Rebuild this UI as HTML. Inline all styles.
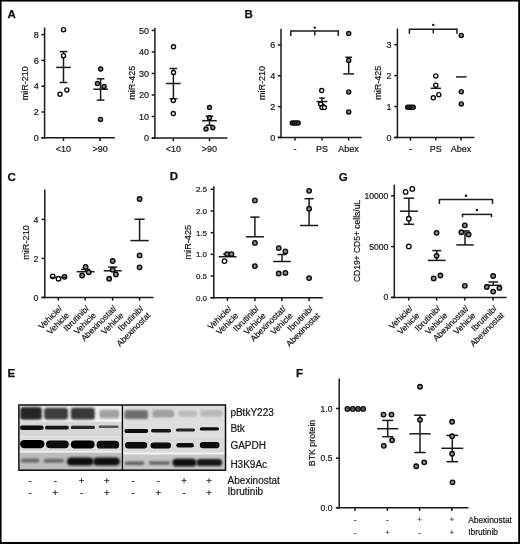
<!DOCTYPE html>
<html><head><meta charset="utf-8"><style>
html,body{margin:0;padding:0;background:#fff;}
body{width:520px;height:544px;overflow:hidden;}
svg{display:block;font-family:"Liberation Sans", sans-serif;filter:grayscale(1);}
</style></head><body>
<svg width="520" height="544" viewBox="0 0 520 544">
<defs><filter id="bl" x="-20%" y="-80%" width="140%" height="260%"><feGaussianBlur stdDeviation="0.75"/></filter><filter id="bl2" x="-20%" y="-50%" width="140%" height="200%"><feGaussianBlur stdDeviation="1.0"/></filter></defs>
<rect x="0" y="0" width="520" height="544" fill="#fff"/>
<text x="7.60" y="17.60" font-size="11.5" font-weight="bold" fill="#111" stroke="#111" stroke-width="0.25">A</text><line x1="44.60" y1="27.50" x2="44.60" y2="138.55" stroke="#1a1a1a" stroke-width="1.5"/><line x1="41.40" y1="137.80" x2="114.90" y2="137.80" stroke="#1a1a1a" stroke-width="1.5"/><line x1="41.40" y1="137.80" x2="44.60" y2="137.80" stroke="#1a1a1a" stroke-width="1.5"/><text x="38.80" y="141.00" font-size="9" text-anchor="end" fill="#161616" stroke="#161616" stroke-width="0.2">0</text><line x1="41.40" y1="112.00" x2="44.60" y2="112.00" stroke="#1a1a1a" stroke-width="1.5"/><text x="38.80" y="115.20" font-size="9" text-anchor="end" fill="#161616" stroke="#161616" stroke-width="0.2">2</text><line x1="41.40" y1="86.20" x2="44.60" y2="86.20" stroke="#1a1a1a" stroke-width="1.5"/><text x="38.80" y="89.40" font-size="9" text-anchor="end" fill="#161616" stroke="#161616" stroke-width="0.2">4</text><line x1="41.40" y1="60.40" x2="44.60" y2="60.40" stroke="#1a1a1a" stroke-width="1.5"/><text x="38.80" y="63.60" font-size="9" text-anchor="end" fill="#161616" stroke="#161616" stroke-width="0.2">6</text><line x1="41.40" y1="34.60" x2="44.60" y2="34.60" stroke="#1a1a1a" stroke-width="1.5"/><text x="38.80" y="37.80" font-size="9" text-anchor="end" fill="#161616" stroke="#161616" stroke-width="0.2">8</text><line x1="63.50" y1="137.80" x2="63.50" y2="141.00" stroke="#1a1a1a" stroke-width="1.5"/><text x="63.50" y="152.00" font-size="9" text-anchor="middle" fill="#161616" stroke="#161616" stroke-width="0.2">&lt;10</text><line x1="100.10" y1="137.80" x2="100.10" y2="141.00" stroke="#1a1a1a" stroke-width="1.5"/><text x="100.10" y="152.00" font-size="9" text-anchor="middle" fill="#161616" stroke="#161616" stroke-width="0.2">&gt;90</text><text x="0" y="0" font-size="9" text-anchor="middle" fill="#161616" stroke="#161616" stroke-width="0.2" transform="translate(27.80,83.20) rotate(-90)">miR-210</text><line x1="56.20" y1="67.40" x2="70.80" y2="67.40" stroke="#1a1a1a" stroke-width="1.5"/><line x1="63.50" y1="51.60" x2="63.50" y2="67.40" stroke="#1a1a1a" stroke-width="1.5"/><line x1="59.70" y1="51.60" x2="67.30" y2="51.60" stroke="#1a1a1a" stroke-width="1.5"/><line x1="63.50" y1="67.40" x2="63.50" y2="82.50" stroke="#1a1a1a" stroke-width="1.5"/><line x1="59.70" y1="82.50" x2="67.30" y2="82.50" stroke="#1a1a1a" stroke-width="1.5"/><circle cx="63.50" cy="29.70" r="2.05" fill="white" stroke="#060606" stroke-width="1.35"/><circle cx="63.50" cy="55.70" r="2.05" fill="white" stroke="#060606" stroke-width="1.35"/><circle cx="66.90" cy="89.90" r="2.05" fill="white" stroke="#060606" stroke-width="1.35"/><circle cx="60.00" cy="94.30" r="2.05" fill="white" stroke="#060606" stroke-width="1.35"/><line x1="93.30" y1="89.20" x2="107.90" y2="89.20" stroke="#1a1a1a" stroke-width="1.5"/><line x1="100.60" y1="78.80" x2="100.60" y2="89.20" stroke="#1a1a1a" stroke-width="1.5"/><line x1="96.80" y1="78.80" x2="104.40" y2="78.80" stroke="#1a1a1a" stroke-width="1.5"/><line x1="100.60" y1="89.20" x2="100.60" y2="100.10" stroke="#1a1a1a" stroke-width="1.5"/><line x1="96.80" y1="100.10" x2="104.40" y2="100.10" stroke="#1a1a1a" stroke-width="1.5"/><circle cx="100.70" cy="69.00" r="2.05" fill="#8c8c8c" stroke="#060606" stroke-width="1.35"/><circle cx="97.40" cy="83.50" r="2.05" fill="#8c8c8c" stroke="#060606" stroke-width="1.35"/><circle cx="104.10" cy="86.50" r="2.05" fill="#8c8c8c" stroke="#060606" stroke-width="1.35"/><circle cx="100.50" cy="119.40" r="2.05" fill="#8c8c8c" stroke="#060606" stroke-width="1.35"/><line x1="154.90" y1="27.70" x2="154.90" y2="138.75" stroke="#1a1a1a" stroke-width="1.5"/><line x1="151.70" y1="138.00" x2="227.40" y2="138.00" stroke="#1a1a1a" stroke-width="1.5"/><line x1="151.70" y1="138.00" x2="154.90" y2="138.00" stroke="#1a1a1a" stroke-width="1.5"/><text x="149.10" y="141.19" font-size="9" text-anchor="end" fill="#161616" stroke="#161616" stroke-width="0.2">0</text><line x1="151.70" y1="116.48" x2="154.90" y2="116.48" stroke="#1a1a1a" stroke-width="1.5"/><text x="149.10" y="119.67" font-size="9" text-anchor="end" fill="#161616" stroke="#161616" stroke-width="0.2">10</text><line x1="151.70" y1="94.96" x2="154.90" y2="94.96" stroke="#1a1a1a" stroke-width="1.5"/><text x="149.10" y="98.15" font-size="9" text-anchor="end" fill="#161616" stroke="#161616" stroke-width="0.2">20</text><line x1="151.70" y1="73.44" x2="154.90" y2="73.44" stroke="#1a1a1a" stroke-width="1.5"/><text x="149.10" y="76.63" font-size="9" text-anchor="end" fill="#161616" stroke="#161616" stroke-width="0.2">30</text><line x1="151.70" y1="51.92" x2="154.90" y2="51.92" stroke="#1a1a1a" stroke-width="1.5"/><text x="149.10" y="55.11" font-size="9" text-anchor="end" fill="#161616" stroke="#161616" stroke-width="0.2">40</text><line x1="151.70" y1="30.40" x2="154.90" y2="30.40" stroke="#1a1a1a" stroke-width="1.5"/><text x="149.10" y="33.59" font-size="9" text-anchor="end" fill="#161616" stroke="#161616" stroke-width="0.2">50</text><line x1="173.30" y1="138.00" x2="173.30" y2="141.20" stroke="#1a1a1a" stroke-width="1.5"/><text x="173.30" y="152.00" font-size="9" text-anchor="middle" fill="#161616" stroke="#161616" stroke-width="0.2">&lt;10</text><line x1="209.50" y1="138.00" x2="209.50" y2="141.20" stroke="#1a1a1a" stroke-width="1.5"/><text x="209.50" y="152.00" font-size="9" text-anchor="middle" fill="#161616" stroke="#161616" stroke-width="0.2">&gt;90</text><text x="0" y="0" font-size="9" text-anchor="middle" fill="#161616" stroke="#161616" stroke-width="0.2" transform="translate(135.00,82.80) rotate(-90)">miR-425</text><line x1="166.10" y1="83.50" x2="180.70" y2="83.50" stroke="#1a1a1a" stroke-width="1.5"/><line x1="173.40" y1="68.50" x2="173.40" y2="83.50" stroke="#1a1a1a" stroke-width="1.5"/><line x1="169.60" y1="68.50" x2="177.20" y2="68.50" stroke="#1a1a1a" stroke-width="1.5"/><line x1="173.40" y1="83.50" x2="173.40" y2="98.70" stroke="#1a1a1a" stroke-width="1.5"/><line x1="169.60" y1="98.70" x2="177.20" y2="98.70" stroke="#1a1a1a" stroke-width="1.5"/><circle cx="173.50" cy="46.80" r="2.05" fill="white" stroke="#060606" stroke-width="1.35"/><circle cx="173.50" cy="72.50" r="2.05" fill="white" stroke="#060606" stroke-width="1.35"/><circle cx="173.30" cy="100.50" r="2.05" fill="white" stroke="#060606" stroke-width="1.35"/><circle cx="173.30" cy="113.60" r="2.05" fill="white" stroke="#060606" stroke-width="1.35"/><line x1="202.20" y1="120.70" x2="216.80" y2="120.70" stroke="#1a1a1a" stroke-width="1.5"/><line x1="209.50" y1="116.20" x2="209.50" y2="120.70" stroke="#1a1a1a" stroke-width="1.5"/><line x1="205.70" y1="116.20" x2="213.30" y2="116.20" stroke="#1a1a1a" stroke-width="1.5"/><line x1="209.50" y1="120.70" x2="209.50" y2="125.30" stroke="#1a1a1a" stroke-width="1.5"/><line x1="205.70" y1="125.30" x2="213.30" y2="125.30" stroke="#1a1a1a" stroke-width="1.5"/><circle cx="209.50" cy="107.50" r="2.05" fill="#8c8c8c" stroke="#060606" stroke-width="1.35"/><circle cx="209.50" cy="117.80" r="2.05" fill="#8c8c8c" stroke="#060606" stroke-width="1.35"/><circle cx="206.00" cy="129.00" r="2.05" fill="#8c8c8c" stroke="#060606" stroke-width="1.35"/><circle cx="212.80" cy="127.70" r="2.05" fill="#8c8c8c" stroke="#060606" stroke-width="1.35"/><text x="244.40" y="17.60" font-size="11.5" font-weight="bold" fill="#111" stroke="#111" stroke-width="0.25">B</text><line x1="281.00" y1="28.70" x2="281.00" y2="138.15" stroke="#1a1a1a" stroke-width="1.5"/><line x1="277.80" y1="137.40" x2="361.80" y2="137.40" stroke="#1a1a1a" stroke-width="1.5"/><line x1="277.80" y1="137.40" x2="281.00" y2="137.40" stroke="#1a1a1a" stroke-width="1.5"/><text x="275.20" y="140.59" font-size="9" text-anchor="end" fill="#161616" stroke="#161616" stroke-width="0.2">0</text><line x1="277.80" y1="106.60" x2="281.00" y2="106.60" stroke="#1a1a1a" stroke-width="1.5"/><text x="275.20" y="109.80" font-size="9" text-anchor="end" fill="#161616" stroke="#161616" stroke-width="0.2">2</text><line x1="277.80" y1="75.80" x2="281.00" y2="75.80" stroke="#1a1a1a" stroke-width="1.5"/><text x="275.20" y="79.00" font-size="9" text-anchor="end" fill="#161616" stroke="#161616" stroke-width="0.2">4</text><line x1="277.80" y1="45.00" x2="281.00" y2="45.00" stroke="#1a1a1a" stroke-width="1.5"/><text x="275.20" y="48.20" font-size="9" text-anchor="end" fill="#161616" stroke="#161616" stroke-width="0.2">6</text><line x1="295.00" y1="137.40" x2="295.00" y2="140.60" stroke="#1a1a1a" stroke-width="1.5"/><text x="295.00" y="151.80" font-size="9" text-anchor="middle" fill="#161616" stroke="#161616" stroke-width="0.2">-</text><line x1="322.00" y1="137.40" x2="322.00" y2="140.60" stroke="#1a1a1a" stroke-width="1.5"/><text x="322.00" y="151.80" font-size="9" text-anchor="middle" fill="#161616" stroke="#161616" stroke-width="0.2">PS</text><line x1="348.60" y1="137.40" x2="348.60" y2="140.60" stroke="#1a1a1a" stroke-width="1.5"/><text x="348.60" y="151.80" font-size="9" text-anchor="middle" fill="#161616" stroke="#161616" stroke-width="0.2">Abex</text><text x="0" y="0" font-size="9" text-anchor="middle" fill="#161616" stroke="#161616" stroke-width="0.2" transform="translate(264.60,83.00) rotate(-90)">miR-210</text><line x1="290.80" y1="31.10" x2="338.30" y2="31.10" stroke="#1a1a1a" stroke-width="1.5"/><line x1="290.80" y1="30.40" x2="290.80" y2="35.90" stroke="#1a1a1a" stroke-width="1.5"/><line x1="338.30" y1="30.40" x2="338.30" y2="35.90" stroke="#1a1a1a" stroke-width="1.5"/><line x1="314.80" y1="31.10" x2="314.80" y2="35.40" stroke="#1a1a1a" stroke-width="1.5"/><circle cx="314.8" cy="27.6" r="1.2" fill="#111"/><circle cx="292.30" cy="123.00" r="2.05" fill="#888" stroke="#060606" stroke-width="1.35"/><circle cx="294.30" cy="123.00" r="2.05" fill="#888" stroke="#060606" stroke-width="1.35"/><circle cx="296.30" cy="123.00" r="2.05" fill="#888" stroke="#060606" stroke-width="1.35"/><circle cx="298.20" cy="123.00" r="2.05" fill="#888" stroke="#060606" stroke-width="1.35"/><line x1="291.00" y1="123.00" x2="299.50" y2="123.00" stroke="#1a1a1a" stroke-width="1.5"/><line x1="316.60" y1="101.60" x2="327.40" y2="101.60" stroke="#1a1a1a" stroke-width="1.5"/><line x1="322.00" y1="98.10" x2="322.00" y2="101.60" stroke="#1a1a1a" stroke-width="1.5"/><line x1="319.30" y1="98.10" x2="324.70" y2="98.10" stroke="#1a1a1a" stroke-width="1.5"/><line x1="322.00" y1="101.60" x2="322.00" y2="104.50" stroke="#1a1a1a" stroke-width="1.5"/><line x1="319.30" y1="104.50" x2="324.70" y2="104.50" stroke="#1a1a1a" stroke-width="1.5"/><circle cx="321.70" cy="90.60" r="2.05" fill="white" stroke="#060606" stroke-width="1.35"/><circle cx="320.60" cy="104.00" r="2.05" fill="white" stroke="#060606" stroke-width="1.35"/><circle cx="322.00" cy="107.60" r="2.05" fill="white" stroke="#060606" stroke-width="1.35"/><circle cx="324.40" cy="107.60" r="2.05" fill="white" stroke="#060606" stroke-width="1.35"/><line x1="343.30" y1="73.90" x2="354.10" y2="73.90" stroke="#1a1a1a" stroke-width="1.5"/><line x1="348.70" y1="57.30" x2="348.70" y2="73.90" stroke="#1a1a1a" stroke-width="1.5"/><line x1="345.30" y1="57.30" x2="352.10" y2="57.30" stroke="#1a1a1a" stroke-width="1.5"/><circle cx="348.70" cy="33.50" r="2.05" fill="#8c8c8c" stroke="#060606" stroke-width="1.35"/><circle cx="348.70" cy="60.40" r="2.05" fill="#8c8c8c" stroke="#060606" stroke-width="1.35"/><circle cx="348.70" cy="91.90" r="2.05" fill="#8c8c8c" stroke="#060606" stroke-width="1.35"/><circle cx="348.70" cy="111.90" r="2.05" fill="#8c8c8c" stroke="#060606" stroke-width="1.35"/><line x1="397.40" y1="28.50" x2="397.40" y2="138.15" stroke="#1a1a1a" stroke-width="1.5"/><line x1="394.20" y1="137.40" x2="474.40" y2="137.40" stroke="#1a1a1a" stroke-width="1.5"/><line x1="394.20" y1="137.50" x2="397.40" y2="137.50" stroke="#1a1a1a" stroke-width="1.5"/><text x="391.60" y="140.69" font-size="9" text-anchor="end" fill="#161616" stroke="#161616" stroke-width="0.2">0</text><line x1="394.20" y1="106.55" x2="397.40" y2="106.55" stroke="#1a1a1a" stroke-width="1.5"/><text x="391.60" y="109.74" font-size="9" text-anchor="end" fill="#161616" stroke="#161616" stroke-width="0.2">1</text><line x1="394.20" y1="75.60" x2="397.40" y2="75.60" stroke="#1a1a1a" stroke-width="1.5"/><text x="391.60" y="78.79" font-size="9" text-anchor="end" fill="#161616" stroke="#161616" stroke-width="0.2">2</text><line x1="394.20" y1="44.65" x2="397.40" y2="44.65" stroke="#1a1a1a" stroke-width="1.5"/><text x="391.60" y="47.85" font-size="9" text-anchor="end" fill="#161616" stroke="#161616" stroke-width="0.2">3</text><line x1="410.40" y1="137.40" x2="410.40" y2="140.60" stroke="#1a1a1a" stroke-width="1.5"/><text x="410.40" y="151.80" font-size="9" text-anchor="middle" fill="#161616" stroke="#161616" stroke-width="0.2">-</text><line x1="435.80" y1="137.40" x2="435.80" y2="140.60" stroke="#1a1a1a" stroke-width="1.5"/><text x="435.80" y="151.80" font-size="9" text-anchor="middle" fill="#161616" stroke="#161616" stroke-width="0.2">PS</text><line x1="461.00" y1="137.40" x2="461.00" y2="140.60" stroke="#1a1a1a" stroke-width="1.5"/><text x="461.00" y="151.80" font-size="9" text-anchor="middle" fill="#161616" stroke="#161616" stroke-width="0.2">Abex</text><text x="0" y="0" font-size="9" text-anchor="middle" fill="#161616" stroke="#161616" stroke-width="0.2" transform="translate(380.90,82.80) rotate(-90)">miR-425</text><line x1="409.40" y1="29.30" x2="457.00" y2="29.30" stroke="#1a1a1a" stroke-width="1.5"/><line x1="409.40" y1="28.60" x2="409.40" y2="33.80" stroke="#1a1a1a" stroke-width="1.5"/><line x1="457.00" y1="28.60" x2="457.00" y2="33.80" stroke="#1a1a1a" stroke-width="1.5"/><line x1="433.30" y1="29.30" x2="433.30" y2="33.40" stroke="#1a1a1a" stroke-width="1.5"/><circle cx="433.3" cy="24.9" r="1.2" fill="#111"/><circle cx="407.70" cy="107.30" r="2.05" fill="#888" stroke="#060606" stroke-width="1.35"/><circle cx="409.60" cy="107.30" r="2.05" fill="#888" stroke="#060606" stroke-width="1.35"/><circle cx="411.40" cy="107.30" r="2.05" fill="#888" stroke="#060606" stroke-width="1.35"/><circle cx="413.20" cy="107.30" r="2.05" fill="#888" stroke="#060606" stroke-width="1.35"/><line x1="405.50" y1="107.30" x2="415.50" y2="107.30" stroke="#1a1a1a" stroke-width="1.5"/><line x1="430.60" y1="88.30" x2="441.00" y2="88.30" stroke="#1a1a1a" stroke-width="1.5"/><circle cx="435.80" cy="75.90" r="2.05" fill="white" stroke="#060606" stroke-width="1.35"/><circle cx="435.80" cy="85.20" r="2.05" fill="white" stroke="#060606" stroke-width="1.35"/><circle cx="438.80" cy="94.70" r="2.05" fill="white" stroke="#060606" stroke-width="1.35"/><circle cx="433.30" cy="97.80" r="2.05" fill="white" stroke="#060606" stroke-width="1.35"/><line x1="456.10" y1="76.90" x2="466.50" y2="76.90" stroke="#1a1a1a" stroke-width="1.5"/><circle cx="461.30" cy="35.40" r="2.05" fill="#8c8c8c" stroke="#060606" stroke-width="1.35"/><circle cx="461.30" cy="91.70" r="2.05" fill="#8c8c8c" stroke="#060606" stroke-width="1.35"/><circle cx="461.30" cy="103.90" r="2.05" fill="#8c8c8c" stroke="#060606" stroke-width="1.35"/><text x="7.60" y="180.60" font-size="11.5" font-weight="bold" fill="#111" stroke="#111" stroke-width="0.25">C</text><line x1="44.80" y1="189.40" x2="44.80" y2="298.15" stroke="#1a1a1a" stroke-width="1.5"/><line x1="41.40" y1="297.40" x2="153.50" y2="297.40" stroke="#1a1a1a" stroke-width="1.5"/><line x1="41.60" y1="297.40" x2="44.80" y2="297.40" stroke="#1a1a1a" stroke-width="1.5"/><text x="38.40" y="300.52" font-size="8.8" text-anchor="end" fill="#161616" stroke="#161616" stroke-width="0.2">0</text><line x1="41.60" y1="258.40" x2="44.80" y2="258.40" stroke="#1a1a1a" stroke-width="1.5"/><text x="38.40" y="261.52" font-size="8.8" text-anchor="end" fill="#161616" stroke="#161616" stroke-width="0.2">2</text><line x1="41.60" y1="219.40" x2="44.80" y2="219.40" stroke="#1a1a1a" stroke-width="1.5"/><text x="38.40" y="222.52" font-size="8.8" text-anchor="end" fill="#161616" stroke="#161616" stroke-width="0.2">4</text><line x1="58.30" y1="297.40" x2="58.30" y2="300.60" stroke="#1a1a1a" stroke-width="1.5"/><line x1="85.20" y1="297.40" x2="85.20" y2="300.60" stroke="#1a1a1a" stroke-width="1.5"/><line x1="112.60" y1="297.40" x2="112.60" y2="300.60" stroke="#1a1a1a" stroke-width="1.5"/><line x1="139.60" y1="297.40" x2="139.60" y2="300.60" stroke="#1a1a1a" stroke-width="1.5"/><text x="0" y="0" font-size="9.2" text-anchor="middle" fill="#161616" stroke="#161616" stroke-width="0.2" transform="translate(29.40,242.50) rotate(-90)">miR-210</text><text x="0" y="0" font-size="8.4" text-anchor="end" fill="#161616" stroke="#161616" stroke-width="0.2" transform="translate(62.70,309.00) rotate(-45)">Vehicle/</text><text x="0" y="0" font-size="8.4" text-anchor="end" fill="#161616" stroke="#161616" stroke-width="0.2" transform="translate(69.63,315.93) rotate(-45)">Vehicle</text><text x="0" y="0" font-size="8.4" text-anchor="end" fill="#161616" stroke="#161616" stroke-width="0.2" transform="translate(89.60,309.00) rotate(-45)">Ibrutinib/</text><text x="0" y="0" font-size="8.4" text-anchor="end" fill="#161616" stroke="#161616" stroke-width="0.2" transform="translate(96.53,315.93) rotate(-45)">Vehicle</text><text x="0" y="0" font-size="8.4" text-anchor="end" fill="#161616" stroke="#161616" stroke-width="0.2" transform="translate(117.00,309.00) rotate(-45)">Abexinostat/</text><text x="0" y="0" font-size="8.4" text-anchor="end" fill="#161616" stroke="#161616" stroke-width="0.2" transform="translate(123.93,315.93) rotate(-45)">Vehicle</text><text x="0" y="0" font-size="8.4" text-anchor="end" fill="#161616" stroke="#161616" stroke-width="0.2" transform="translate(144.00,309.00) rotate(-45)">Ibrutinib/</text><text x="0" y="0" font-size="8.4" text-anchor="end" fill="#161616" stroke="#161616" stroke-width="0.2" transform="translate(150.93,315.93) rotate(-45)">Abexinostat</text><circle cx="52.70" cy="276.30" r="2.25" fill="white" stroke="#060606" stroke-width="1.35"/><circle cx="64.50" cy="276.80" r="2.25" fill="#8c8c8c" stroke="#060606" stroke-width="1.35"/><line x1="50.50" y1="277.40" x2="66.80" y2="277.40" stroke="#1a1a1a" stroke-width="1.2"/><circle cx="58.50" cy="278.70" r="2.25" fill="white" stroke="#060606" stroke-width="1.35"/><line x1="76.60" y1="271.70" x2="94.60" y2="271.70" stroke="#1a1a1a" stroke-width="1.5"/><line x1="85.60" y1="269.40" x2="85.60" y2="271.70" stroke="#1a1a1a" stroke-width="1.5"/><line x1="81.10" y1="269.40" x2="90.10" y2="269.40" stroke="#1a1a1a" stroke-width="1.5"/><circle cx="85.60" cy="266.90" r="2.25" fill="#8c8c8c" stroke="#060606" stroke-width="1.35"/><circle cx="88.70" cy="272.30" r="2.25" fill="#8c8c8c" stroke="#060606" stroke-width="1.35"/><circle cx="82.10" cy="275.50" r="2.25" fill="#8c8c8c" stroke="#060606" stroke-width="1.35"/><line x1="103.70" y1="270.80" x2="121.70" y2="270.80" stroke="#1a1a1a" stroke-width="1.5"/><line x1="112.70" y1="267.10" x2="112.70" y2="270.80" stroke="#1a1a1a" stroke-width="1.5"/><line x1="108.10" y1="267.10" x2="117.30" y2="267.10" stroke="#1a1a1a" stroke-width="1.5"/><circle cx="112.70" cy="261.00" r="2.25" fill="#8c8c8c" stroke="#060606" stroke-width="1.35"/><circle cx="112.70" cy="269.80" r="2.25" fill="#8c8c8c" stroke="#060606" stroke-width="1.35"/><circle cx="115.90" cy="274.40" r="2.25" fill="#8c8c8c" stroke="#060606" stroke-width="1.35"/><circle cx="109.20" cy="278.70" r="2.25" fill="#8c8c8c" stroke="#060606" stroke-width="1.35"/><line x1="130.50" y1="240.60" x2="148.70" y2="240.60" stroke="#1a1a1a" stroke-width="1.5"/><line x1="139.60" y1="219.20" x2="139.60" y2="240.60" stroke="#1a1a1a" stroke-width="1.5"/><line x1="134.60" y1="219.20" x2="144.60" y2="219.20" stroke="#1a1a1a" stroke-width="1.5"/><circle cx="139.60" cy="199.00" r="2.25" fill="#8c8c8c" stroke="#060606" stroke-width="1.35"/><circle cx="139.60" cy="255.40" r="2.25" fill="#8c8c8c" stroke="#060606" stroke-width="1.35"/><circle cx="139.60" cy="267.30" r="2.25" fill="#8c8c8c" stroke="#060606" stroke-width="1.35"/><text x="169.80" y="180.40" font-size="11.5" font-weight="bold" fill="#111" stroke="#111" stroke-width="0.25">D</text><line x1="213.80" y1="186.30" x2="213.80" y2="298.45" stroke="#1a1a1a" stroke-width="1.5"/><line x1="210.50" y1="297.70" x2="322.90" y2="297.70" stroke="#1a1a1a" stroke-width="1.5"/><line x1="210.60" y1="297.70" x2="213.80" y2="297.70" stroke="#1a1a1a" stroke-width="1.5"/><text x="207.00" y="300.54" font-size="8" text-anchor="end" fill="#161616" stroke="#161616" stroke-width="0.2">0.0</text><line x1="210.60" y1="276.02" x2="213.80" y2="276.02" stroke="#1a1a1a" stroke-width="1.5"/><text x="207.00" y="278.86" font-size="8" text-anchor="end" fill="#161616" stroke="#161616" stroke-width="0.2">0.5</text><line x1="210.60" y1="254.34" x2="213.80" y2="254.34" stroke="#1a1a1a" stroke-width="1.5"/><text x="207.00" y="257.18" font-size="8" text-anchor="end" fill="#161616" stroke="#161616" stroke-width="0.2">1.0</text><line x1="210.60" y1="232.66" x2="213.80" y2="232.66" stroke="#1a1a1a" stroke-width="1.5"/><text x="207.00" y="235.50" font-size="8" text-anchor="end" fill="#161616" stroke="#161616" stroke-width="0.2">1.5</text><line x1="210.60" y1="210.98" x2="213.80" y2="210.98" stroke="#1a1a1a" stroke-width="1.5"/><text x="207.00" y="213.82" font-size="8" text-anchor="end" fill="#161616" stroke="#161616" stroke-width="0.2">2.0</text><line x1="210.60" y1="189.30" x2="213.80" y2="189.30" stroke="#1a1a1a" stroke-width="1.5"/><text x="207.00" y="192.14" font-size="8" text-anchor="end" fill="#161616" stroke="#161616" stroke-width="0.2">2.5</text><line x1="227.50" y1="297.70" x2="227.50" y2="300.90" stroke="#1a1a1a" stroke-width="1.5"/><line x1="254.90" y1="297.70" x2="254.90" y2="300.90" stroke="#1a1a1a" stroke-width="1.5"/><line x1="281.90" y1="297.70" x2="281.90" y2="300.90" stroke="#1a1a1a" stroke-width="1.5"/><line x1="309.10" y1="297.70" x2="309.10" y2="300.90" stroke="#1a1a1a" stroke-width="1.5"/><text x="0" y="0" font-size="9.2" text-anchor="middle" fill="#161616" stroke="#161616" stroke-width="0.2" transform="translate(191.20,242.20) rotate(-90)">miR-425</text><text x="0" y="0" font-size="8.4" text-anchor="end" fill="#161616" stroke="#161616" stroke-width="0.2" transform="translate(231.90,309.30) rotate(-45)">Vehicle/</text><text x="0" y="0" font-size="8.4" text-anchor="end" fill="#161616" stroke="#161616" stroke-width="0.2" transform="translate(238.83,316.23) rotate(-45)">Vehicle</text><text x="0" y="0" font-size="8.4" text-anchor="end" fill="#161616" stroke="#161616" stroke-width="0.2" transform="translate(259.30,309.30) rotate(-45)">Ibrutinib/</text><text x="0" y="0" font-size="8.4" text-anchor="end" fill="#161616" stroke="#161616" stroke-width="0.2" transform="translate(266.23,316.23) rotate(-45)">Vehicle</text><text x="0" y="0" font-size="8.4" text-anchor="end" fill="#161616" stroke="#161616" stroke-width="0.2" transform="translate(286.30,309.30) rotate(-45)">Abexinostat/</text><text x="0" y="0" font-size="8.4" text-anchor="end" fill="#161616" stroke="#161616" stroke-width="0.2" transform="translate(293.23,316.23) rotate(-45)">Vehicle</text><text x="0" y="0" font-size="8.4" text-anchor="end" fill="#161616" stroke="#161616" stroke-width="0.2" transform="translate(313.50,309.30) rotate(-45)">Ibrutinib/</text><text x="0" y="0" font-size="8.4" text-anchor="end" fill="#161616" stroke="#161616" stroke-width="0.2" transform="translate(320.43,316.23) rotate(-45)">Abexinostat</text><line x1="218.60" y1="256.70" x2="236.60" y2="256.70" stroke="#1a1a1a" stroke-width="1.5"/><line x1="227.60" y1="254.10" x2="227.60" y2="256.70" stroke="#1a1a1a" stroke-width="1.5"/><line x1="223.10" y1="254.10" x2="232.10" y2="254.10" stroke="#1a1a1a" stroke-width="1.5"/><circle cx="227.10" cy="254.10" r="2.25" fill="#8c8c8c" stroke="#060606" stroke-width="1.35"/><circle cx="231.40" cy="254.10" r="2.25" fill="#8c8c8c" stroke="#060606" stroke-width="1.35"/><circle cx="224.50" cy="261.10" r="2.25" fill="white" stroke="#060606" stroke-width="1.35"/><line x1="245.90" y1="236.80" x2="263.90" y2="236.80" stroke="#1a1a1a" stroke-width="1.5"/><line x1="254.90" y1="217.10" x2="254.90" y2="236.80" stroke="#1a1a1a" stroke-width="1.5"/><line x1="250.30" y1="217.10" x2="259.50" y2="217.10" stroke="#1a1a1a" stroke-width="1.5"/><circle cx="254.90" cy="200.40" r="2.25" fill="#8c8c8c" stroke="#060606" stroke-width="1.35"/><circle cx="254.90" cy="242.90" r="2.25" fill="#8c8c8c" stroke="#060606" stroke-width="1.35"/><circle cx="254.90" cy="266.10" r="2.25" fill="#8c8c8c" stroke="#060606" stroke-width="1.35"/><line x1="273.20" y1="261.50" x2="290.80" y2="261.50" stroke="#1a1a1a" stroke-width="1.5"/><line x1="282.00" y1="254.50" x2="282.00" y2="261.50" stroke="#1a1a1a" stroke-width="1.5"/><line x1="277.50" y1="254.50" x2="286.50" y2="254.50" stroke="#1a1a1a" stroke-width="1.5"/><circle cx="278.80" cy="248.10" r="2.25" fill="#8c8c8c" stroke="#060606" stroke-width="1.35"/><circle cx="285.40" cy="251.40" r="2.25" fill="#8c8c8c" stroke="#060606" stroke-width="1.35"/><circle cx="278.70" cy="273.50" r="2.25" fill="#8c8c8c" stroke="#060606" stroke-width="1.35"/><circle cx="285.40" cy="272.90" r="2.25" fill="#8c8c8c" stroke="#060606" stroke-width="1.35"/><line x1="300.00" y1="225.50" x2="318.20" y2="225.50" stroke="#1a1a1a" stroke-width="1.5"/><line x1="309.10" y1="198.70" x2="309.10" y2="225.50" stroke="#1a1a1a" stroke-width="1.5"/><line x1="304.50" y1="198.70" x2="313.70" y2="198.70" stroke="#1a1a1a" stroke-width="1.5"/><circle cx="309.10" cy="190.80" r="2.25" fill="#8c8c8c" stroke="#060606" stroke-width="1.35"/><circle cx="309.10" cy="208.70" r="2.25" fill="#8c8c8c" stroke="#060606" stroke-width="1.35"/><circle cx="309.10" cy="278.10" r="2.25" fill="#8c8c8c" stroke="#060606" stroke-width="1.35"/><text x="338.80" y="180.80" font-size="11.5" font-weight="bold" fill="#111" stroke="#111" stroke-width="0.25">G</text><line x1="394.30" y1="184.60" x2="394.30" y2="298.15" stroke="#1a1a1a" stroke-width="1.5"/><line x1="391.10" y1="297.40" x2="506.60" y2="297.40" stroke="#1a1a1a" stroke-width="1.5"/><line x1="391.10" y1="297.40" x2="394.30" y2="297.40" stroke="#1a1a1a" stroke-width="1.5"/><text x="388.30" y="300.45" font-size="8.6" text-anchor="end" fill="#161616" stroke="#161616" stroke-width="0.2">0</text><line x1="391.10" y1="246.60" x2="394.30" y2="246.60" stroke="#1a1a1a" stroke-width="1.5"/><text x="388.30" y="249.65" font-size="8.6" text-anchor="end" fill="#161616" stroke="#161616" stroke-width="0.2">5000</text><line x1="391.10" y1="195.80" x2="394.30" y2="195.80" stroke="#1a1a1a" stroke-width="1.5"/><text x="388.30" y="198.85" font-size="8.6" text-anchor="end" fill="#161616" stroke="#161616" stroke-width="0.2">10000</text><line x1="408.80" y1="297.40" x2="408.80" y2="300.60" stroke="#1a1a1a" stroke-width="1.5"/><line x1="436.60" y1="297.40" x2="436.60" y2="300.60" stroke="#1a1a1a" stroke-width="1.5"/><line x1="464.80" y1="297.40" x2="464.80" y2="300.60" stroke="#1a1a1a" stroke-width="1.5"/><line x1="493.00" y1="297.40" x2="493.00" y2="300.60" stroke="#1a1a1a" stroke-width="1.5"/><text x="0" y="0" font-size="8.5" text-anchor="middle" fill="#161616" stroke="#161616" stroke-width="0.2" transform="translate(359.60,241.00) rotate(-90)">CD19+ CD5+ cells/uL</text><text x="0" y="0" font-size="8.4" text-anchor="end" fill="#161616" stroke="#161616" stroke-width="0.2" transform="translate(413.20,309.00) rotate(-45)">Vehicle/</text><text x="0" y="0" font-size="8.4" text-anchor="end" fill="#161616" stroke="#161616" stroke-width="0.2" transform="translate(420.13,315.93) rotate(-45)">Vehicle</text><text x="0" y="0" font-size="8.4" text-anchor="end" fill="#161616" stroke="#161616" stroke-width="0.2" transform="translate(441.00,309.00) rotate(-45)">Ibrutinib/</text><text x="0" y="0" font-size="8.4" text-anchor="end" fill="#161616" stroke="#161616" stroke-width="0.2" transform="translate(447.93,315.93) rotate(-45)">Vehicle</text><text x="0" y="0" font-size="8.4" text-anchor="end" fill="#161616" stroke="#161616" stroke-width="0.2" transform="translate(469.20,309.00) rotate(-45)">Abexinostat/</text><text x="0" y="0" font-size="8.4" text-anchor="end" fill="#161616" stroke="#161616" stroke-width="0.2" transform="translate(476.13,315.93) rotate(-45)">Vehicle</text><text x="0" y="0" font-size="8.4" text-anchor="end" fill="#161616" stroke="#161616" stroke-width="0.2" transform="translate(497.40,309.00) rotate(-45)">Ibrutinib/</text><text x="0" y="0" font-size="8.4" text-anchor="end" fill="#161616" stroke="#161616" stroke-width="0.2" transform="translate(504.33,315.93) rotate(-45)">Abexinostat</text><line x1="439.40" y1="199.60" x2="492.50" y2="199.60" stroke="#1a1a1a" stroke-width="1.5"/><line x1="439.40" y1="199.00" x2="439.40" y2="204.00" stroke="#1a1a1a" stroke-width="1.5"/><line x1="492.50" y1="199.00" x2="492.50" y2="204.00" stroke="#1a1a1a" stroke-width="1.5"/><circle cx="466.0" cy="195.8" r="1.25" fill="#111"/><line x1="462.50" y1="214.40" x2="491.50" y2="214.40" stroke="#1a1a1a" stroke-width="1.5"/><line x1="462.50" y1="213.80" x2="462.50" y2="217.20" stroke="#1a1a1a" stroke-width="1.5"/><line x1="491.50" y1="213.80" x2="491.50" y2="217.20" stroke="#1a1a1a" stroke-width="1.5"/><circle cx="476.9" cy="210.0" r="1.25" fill="#111"/><line x1="399.90" y1="211.20" x2="417.90" y2="211.20" stroke="#1a1a1a" stroke-width="1.5"/><line x1="408.90" y1="198.20" x2="408.90" y2="211.20" stroke="#1a1a1a" stroke-width="1.5"/><line x1="403.70" y1="198.20" x2="414.10" y2="198.20" stroke="#1a1a1a" stroke-width="1.5"/><line x1="408.90" y1="211.20" x2="408.90" y2="224.30" stroke="#1a1a1a" stroke-width="1.5"/><line x1="403.70" y1="224.30" x2="414.10" y2="224.30" stroke="#1a1a1a" stroke-width="1.5"/><circle cx="405.60" cy="191.90" r="2.25" fill="white" stroke="#060606" stroke-width="1.35"/><circle cx="412.30" cy="188.90" r="2.25" fill="white" stroke="#060606" stroke-width="1.35"/><circle cx="408.80" cy="218.70" r="2.25" fill="white" stroke="#060606" stroke-width="1.35"/><circle cx="408.80" cy="246.40" r="2.25" fill="white" stroke="#060606" stroke-width="1.35"/><line x1="427.90" y1="260.40" x2="445.70" y2="260.40" stroke="#1a1a1a" stroke-width="1.5"/><line x1="436.80" y1="250.60" x2="436.80" y2="260.40" stroke="#1a1a1a" stroke-width="1.5"/><line x1="432.30" y1="250.60" x2="441.30" y2="250.60" stroke="#1a1a1a" stroke-width="1.5"/><circle cx="436.60" cy="232.80" r="2.25" fill="#8c8c8c" stroke="#060606" stroke-width="1.35"/><circle cx="436.60" cy="255.80" r="2.25" fill="#8c8c8c" stroke="#060606" stroke-width="1.35"/><circle cx="433.70" cy="278.40" r="2.25" fill="#8c8c8c" stroke="#060606" stroke-width="1.35"/><circle cx="440.40" cy="275.50" r="2.25" fill="#8c8c8c" stroke="#060606" stroke-width="1.35"/><line x1="456.30" y1="244.90" x2="473.70" y2="244.90" stroke="#1a1a1a" stroke-width="1.5"/><line x1="465.00" y1="231.00" x2="465.00" y2="244.90" stroke="#1a1a1a" stroke-width="1.5"/><line x1="460.30" y1="231.00" x2="469.70" y2="231.00" stroke="#1a1a1a" stroke-width="1.5"/><circle cx="464.80" cy="225.30" r="2.25" fill="#8c8c8c" stroke="#060606" stroke-width="1.35"/><circle cx="461.40" cy="232.20" r="2.25" fill="#8c8c8c" stroke="#060606" stroke-width="1.35"/><circle cx="468.60" cy="234.50" r="2.25" fill="#8c8c8c" stroke="#060606" stroke-width="1.35"/><circle cx="464.80" cy="285.80" r="2.25" fill="#8c8c8c" stroke="#060606" stroke-width="1.35"/><line x1="485.00" y1="285.30" x2="501.40" y2="285.30" stroke="#1a1a1a" stroke-width="1.5"/><line x1="493.20" y1="282.00" x2="493.20" y2="285.30" stroke="#1a1a1a" stroke-width="1.5"/><line x1="488.40" y1="282.00" x2="498.00" y2="282.00" stroke="#1a1a1a" stroke-width="1.5"/><circle cx="493.20" cy="276.00" r="2.25" fill="#8c8c8c" stroke="#060606" stroke-width="1.35"/><circle cx="486.80" cy="287.00" r="2.25" fill="#8c8c8c" stroke="#060606" stroke-width="1.35"/><circle cx="499.40" cy="288.10" r="2.25" fill="#8c8c8c" stroke="#060606" stroke-width="1.35"/><circle cx="493.20" cy="291.60" r="2.25" fill="#8c8c8c" stroke="#060606" stroke-width="1.35"/><text x="296.00" y="376.80" font-size="11.5" font-weight="bold" fill="#111" stroke="#111" stroke-width="0.25">F</text><line x1="339.20" y1="378.50" x2="339.20" y2="508.45" stroke="#1a1a1a" stroke-width="1.5"/><line x1="335.80" y1="507.70" x2="468.50" y2="507.70" stroke="#1a1a1a" stroke-width="1.5"/><line x1="336.00" y1="507.70" x2="339.20" y2="507.70" stroke="#1a1a1a" stroke-width="1.5"/><text x="332.40" y="510.72" font-size="8.5" text-anchor="end" fill="#161616" stroke="#161616" stroke-width="0.2">0.0</text><line x1="336.00" y1="458.10" x2="339.20" y2="458.10" stroke="#1a1a1a" stroke-width="1.5"/><text x="332.40" y="461.12" font-size="8.5" text-anchor="end" fill="#161616" stroke="#161616" stroke-width="0.2">0.5</text><line x1="336.00" y1="408.50" x2="339.20" y2="408.50" stroke="#1a1a1a" stroke-width="1.5"/><text x="332.40" y="411.52" font-size="8.5" text-anchor="end" fill="#161616" stroke="#161616" stroke-width="0.2">1.0</text><line x1="355.00" y1="507.70" x2="355.00" y2="510.90" stroke="#1a1a1a" stroke-width="1.5"/><line x1="387.40" y1="507.70" x2="387.40" y2="510.90" stroke="#1a1a1a" stroke-width="1.5"/><line x1="419.60" y1="507.70" x2="419.60" y2="510.90" stroke="#1a1a1a" stroke-width="1.5"/><line x1="451.80" y1="507.70" x2="451.80" y2="510.90" stroke="#1a1a1a" stroke-width="1.5"/><text x="0" y="0" font-size="8.8" text-anchor="middle" fill="#161616" stroke="#161616" stroke-width="0.2" transform="translate(314.80,443.00) rotate(-90)">BTK protein</text><line x1="345.00" y1="408.90" x2="366.00" y2="408.90" stroke="#1a1a1a" stroke-width="1.5"/><circle cx="347.40" cy="408.90" r="2.25" fill="#8c8c8c" stroke="#060606" stroke-width="1.35"/><circle cx="352.80" cy="408.90" r="2.25" fill="#8c8c8c" stroke="#060606" stroke-width="1.35"/><circle cx="358.00" cy="408.90" r="2.25" fill="#8c8c8c" stroke="#060606" stroke-width="1.35"/><circle cx="363.20" cy="408.90" r="2.25" fill="#8c8c8c" stroke="#060606" stroke-width="1.35"/><line x1="345.00" y1="408.90" x2="366.00" y2="408.90" stroke="#1a1a1a" stroke-width="0.8"/><line x1="377.10" y1="428.70" x2="398.30" y2="428.70" stroke="#1a1a1a" stroke-width="1.5"/><line x1="387.70" y1="420.40" x2="387.70" y2="428.70" stroke="#1a1a1a" stroke-width="1.5"/><line x1="382.20" y1="420.40" x2="393.20" y2="420.40" stroke="#1a1a1a" stroke-width="1.5"/><line x1="387.70" y1="428.70" x2="387.70" y2="436.70" stroke="#1a1a1a" stroke-width="1.5"/><line x1="382.20" y1="436.70" x2="393.20" y2="436.70" stroke="#1a1a1a" stroke-width="1.5"/><circle cx="383.50" cy="414.60" r="2.25" fill="#8c8c8c" stroke="#060606" stroke-width="1.35"/><circle cx="391.50" cy="414.60" r="2.25" fill="#8c8c8c" stroke="#060606" stroke-width="1.35"/><circle cx="392.10" cy="440.20" r="2.25" fill="#8c8c8c" stroke="#060606" stroke-width="1.35"/><circle cx="383.80" cy="445.80" r="2.25" fill="#8c8c8c" stroke="#060606" stroke-width="1.35"/><line x1="409.40" y1="433.80" x2="430.60" y2="433.80" stroke="#1a1a1a" stroke-width="1.5"/><line x1="420.00" y1="415.20" x2="420.00" y2="433.80" stroke="#1a1a1a" stroke-width="1.5"/><line x1="414.20" y1="415.20" x2="425.80" y2="415.20" stroke="#1a1a1a" stroke-width="1.5"/><line x1="420.00" y1="433.80" x2="420.00" y2="452.50" stroke="#1a1a1a" stroke-width="1.5"/><line x1="414.20" y1="452.50" x2="425.80" y2="452.50" stroke="#1a1a1a" stroke-width="1.5"/><circle cx="420.00" cy="386.70" r="2.25" fill="#8c8c8c" stroke="#060606" stroke-width="1.35"/><circle cx="420.00" cy="419.80" r="2.25" fill="#8c8c8c" stroke="#060606" stroke-width="1.35"/><circle cx="416.20" cy="466.20" r="2.25" fill="#8c8c8c" stroke="#060606" stroke-width="1.35"/><circle cx="424.20" cy="462.30" r="2.25" fill="#8c8c8c" stroke="#060606" stroke-width="1.35"/><line x1="441.40" y1="448.30" x2="463.20" y2="448.30" stroke="#1a1a1a" stroke-width="1.5"/><line x1="452.30" y1="435.40" x2="452.30" y2="448.30" stroke="#1a1a1a" stroke-width="1.5"/><line x1="446.50" y1="435.40" x2="458.10" y2="435.40" stroke="#1a1a1a" stroke-width="1.5"/><line x1="452.30" y1="448.30" x2="452.30" y2="461.70" stroke="#1a1a1a" stroke-width="1.5"/><line x1="446.50" y1="461.70" x2="458.10" y2="461.70" stroke="#1a1a1a" stroke-width="1.5"/><circle cx="452.10" cy="421.70" r="2.25" fill="#8c8c8c" stroke="#060606" stroke-width="1.35"/><circle cx="452.10" cy="436.20" r="2.25" fill="#8c8c8c" stroke="#060606" stroke-width="1.35"/><circle cx="452.10" cy="453.70" r="2.25" fill="#8c8c8c" stroke="#060606" stroke-width="1.35"/><circle cx="452.50" cy="482.30" r="2.25" fill="#8c8c8c" stroke="#060606" stroke-width="1.35"/><text x="355.00" y="522.30" font-size="8.0" text-anchor="middle" fill="#333" stroke="#333" stroke-width="0.2">-</text><text x="355.00" y="535.00" font-size="8.0" text-anchor="middle" fill="#333" stroke="#333" stroke-width="0.2">-</text><text x="387.40" y="522.30" font-size="8.0" text-anchor="middle" fill="#333" stroke="#333" stroke-width="0.2">-</text><text x="387.40" y="535.00" font-size="8.0" text-anchor="middle" fill="#333" stroke="#333" stroke-width="0.2">+</text><text x="419.60" y="522.30" font-size="8.0" text-anchor="middle" fill="#333" stroke="#333" stroke-width="0.2">+</text><text x="419.60" y="535.00" font-size="8.0" text-anchor="middle" fill="#333" stroke="#333" stroke-width="0.2">-</text><text x="451.80" y="522.30" font-size="8.0" text-anchor="middle" fill="#333" stroke="#333" stroke-width="0.2">+</text><text x="451.80" y="535.00" font-size="8.0" text-anchor="middle" fill="#333" stroke="#333" stroke-width="0.2">+</text><text x="468.20" y="522.70" font-size="8.4" text-anchor="start" fill="#161616" stroke="#161616" stroke-width="0.2">Abexinostat</text><text x="468.20" y="534.60" font-size="8.4" text-anchor="start" fill="#161616" stroke="#161616" stroke-width="0.2">Ibrutinib</text><text x="7.60" y="377.40" font-size="11.5" font-weight="bold" fill="#111" stroke="#111" stroke-width="0.25">E</text><g><rect x="19.60" y="405.30" width="102.00" height="15.10" fill="#eeeeee"/><rect x="19.60" y="420.40" width="102.00" height="1.20" fill="#f6f6f6"/><rect x="19.60" y="421.60" width="102.00" height="14.40" fill="#d6d6d6"/><rect x="19.60" y="436.00" width="102.00" height="1.00" fill="#e4e4e4"/><rect x="19.60" y="437.00" width="102.00" height="14.00" fill="#dcdcdc"/><rect x="19.60" y="451.00" width="102.00" height="1.60" fill="#f0f0f0"/><rect x="19.60" y="452.60" width="102.00" height="17.40" fill="#bdbdbd"/><rect x="123.20" y="405.30" width="101.70" height="31.70" fill="#dedede"/><rect x="123.20" y="437.00" width="101.70" height="15.80" fill="#dadada"/><rect x="123.20" y="452.80" width="101.70" height="1.60" fill="#f4f4f4"/><rect x="123.20" y="454.40" width="101.70" height="15.60" fill="#c6c6c6"/><rect x="20.20" y="407.10" width="21.60" height="12.60" rx="2.50" fill="#262626" filter="url(#bl2)"/><rect x="44.20" y="407.70" width="23.80" height="11.80" rx="2.50" fill="#3c3c3c" filter="url(#bl2)"/><rect x="70.80" y="407.70" width="24.00" height="11.80" rx="2.50" fill="#393939" filter="url(#bl2)"/><rect x="99.40" y="409.80" width="20.00" height="8.40" rx="2.50" fill="#a0a0a0" filter="url(#bl2)"/><rect x="124.40" y="409.90" width="23.60" height="9.00" rx="2.50" fill="#6e6e6e" filter="url(#bl2)"/><rect x="152.20" y="409.80" width="21.80" height="7.60" rx="2.50" fill="#a0a0a0" filter="url(#bl2)"/><rect x="178.00" y="410.60" width="19.00" height="6.00" rx="2.50" fill="#bababa" filter="url(#bl2)"/><rect x="200.00" y="410.00" width="22.80" height="6.40" rx="2.50" fill="#b8b8b8" filter="url(#bl2)"/><rect x="20.00" y="425.50" width="23.60" height="4.40" rx="2.20" fill="#0a0a0a" filter="url(#bl)"/><rect x="45.00" y="425.80" width="23.80" height="3.80" rx="1.90" fill="#141414" filter="url(#bl)"/><rect x="70.80" y="425.70" width="24.20" height="3.40" rx="1.70" fill="#262626" filter="url(#bl)"/><rect x="98.60" y="425.40" width="20.00" height="2.60" rx="1.30" fill="#555555" filter="url(#bl)"/><rect x="124.40" y="428.90" width="23.80" height="4.20" rx="2.10" fill="#0a0a0a" filter="url(#bl)"/><rect x="151.00" y="429.00" width="20.20" height="3.60" rx="1.80" fill="#121212" filter="url(#bl)"/><rect x="175.80" y="428.50" width="19.20" height="3.00" rx="1.50" fill="#262626" filter="url(#bl)"/><rect x="199.80" y="427.20" width="19.20" height="3.40" rx="1.70" fill="#101010" filter="url(#bl)"/><rect x="20.00" y="439.90" width="24.50" height="8.40" rx="4.20" fill="#050505" filter="url(#bl)"/><rect x="46.00" y="440.40" width="22.80" height="7.80" rx="3.90" fill="#070707" filter="url(#bl)"/><rect x="70.80" y="440.40" width="23.80" height="8.20" rx="4.10" fill="#050505" filter="url(#bl)"/><rect x="96.60" y="440.80" width="22.60" height="7.80" rx="3.90" fill="#070707" filter="url(#bl)"/><rect x="125.00" y="442.10" width="22.20" height="6.40" rx="3.20" fill="#070707" filter="url(#bl)"/><rect x="150.50" y="442.60" width="20.60" height="5.80" rx="2.90" fill="#0a0a0a" filter="url(#bl)"/><rect x="176.30" y="443.10" width="17.60" height="4.40" rx="2.20" fill="#101010" filter="url(#bl)"/><rect x="199.80" y="441.90" width="19.70" height="6.40" rx="3.20" fill="#070707" filter="url(#bl)"/><rect x="21.00" y="458.60" width="18.20" height="4.00" rx="2.00" fill="#666666" filter="url(#bl2)"/><rect x="43.60" y="458.80" width="20.60" height="4.00" rx="2.00" fill="#696969" filter="url(#bl2)"/><rect x="67.00" y="457.40" width="26.40" height="8.00" rx="4.00" fill="#101010" filter="url(#bl2)"/><rect x="93.20" y="457.40" width="26.60" height="8.00" rx="4.00" fill="#101010" filter="url(#bl2)"/><rect x="124.80" y="461.40" width="19.60" height="3.60" rx="1.80" fill="#606060" filter="url(#bl2)"/><rect x="148.60" y="461.20" width="21.60" height="3.60" rx="1.80" fill="#646464" filter="url(#bl2)"/><rect x="172.40" y="458.70" width="24.00" height="7.80" rx="3.90" fill="#0e0e0e" filter="url(#bl2)"/><rect x="196.40" y="458.90" width="25.80" height="7.00" rx="3.50" fill="#121212" filter="url(#bl2)"/></g><rect x="18.9" y="405.0" width="206.6" height="65.2" fill="none" stroke="#0a0a0a" stroke-width="1.5"/><line x1="122.40" y1="405.00" x2="122.40" y2="470.20" stroke="#0a0a0a" stroke-width="1.4"/><text x="230.40" y="416.30" font-size="10" text-anchor="start" fill="#161616" stroke="#161616" stroke-width="0.2">pBtkY223</text><text x="230.40" y="431.50" font-size="10" text-anchor="start" fill="#161616" stroke="#161616" stroke-width="0.2">Btk</text><text x="230.40" y="448.90" font-size="10" text-anchor="start" fill="#161616" stroke="#161616" stroke-width="0.2">GAPDH</text><text x="230.40" y="468.00" font-size="10" text-anchor="start" fill="#161616" stroke="#161616" stroke-width="0.2">H3K9Ac</text><text x="30.00" y="484.20" font-size="9.5" text-anchor="middle" fill="#161616" stroke="#161616" stroke-width="0.2">-</text><text x="30.00" y="495.60" font-size="9.5" text-anchor="middle" fill="#161616" stroke="#161616" stroke-width="0.2">-</text><text x="55.40" y="484.20" font-size="9.5" text-anchor="middle" fill="#161616" stroke="#161616" stroke-width="0.2">-</text><text x="55.40" y="495.60" font-size="9.5" text-anchor="middle" fill="#161616" stroke="#161616" stroke-width="0.2">+</text><text x="81.50" y="484.20" font-size="9.5" text-anchor="middle" fill="#161616" stroke="#161616" stroke-width="0.2">+</text><text x="81.50" y="495.60" font-size="9.5" text-anchor="middle" fill="#161616" stroke="#161616" stroke-width="0.2">-</text><text x="106.80" y="484.20" font-size="9.5" text-anchor="middle" fill="#161616" stroke="#161616" stroke-width="0.2">+</text><text x="106.80" y="495.60" font-size="9.5" text-anchor="middle" fill="#161616" stroke="#161616" stroke-width="0.2">+</text><text x="133.00" y="484.20" font-size="9.5" text-anchor="middle" fill="#161616" stroke="#161616" stroke-width="0.2">-</text><text x="133.00" y="495.60" font-size="9.5" text-anchor="middle" fill="#161616" stroke="#161616" stroke-width="0.2">-</text><text x="158.40" y="484.20" font-size="9.5" text-anchor="middle" fill="#161616" stroke="#161616" stroke-width="0.2">-</text><text x="158.40" y="495.60" font-size="9.5" text-anchor="middle" fill="#161616" stroke="#161616" stroke-width="0.2">+</text><text x="184.00" y="484.20" font-size="9.5" text-anchor="middle" fill="#161616" stroke="#161616" stroke-width="0.2">+</text><text x="184.00" y="495.60" font-size="9.5" text-anchor="middle" fill="#161616" stroke="#161616" stroke-width="0.2">-</text><text x="209.10" y="484.20" font-size="9.5" text-anchor="middle" fill="#161616" stroke="#161616" stroke-width="0.2">+</text><text x="209.10" y="495.60" font-size="9.5" text-anchor="middle" fill="#161616" stroke="#161616" stroke-width="0.2">+</text><text x="227.60" y="483.80" font-size="10" text-anchor="start" fill="#161616" stroke="#161616" stroke-width="0.2">Abexinostat</text><text x="227.60" y="495.20" font-size="10" text-anchor="start" fill="#161616" stroke="#161616" stroke-width="0.2">Ibrutinib</text>
<rect x="0.75" y="0.75" width="518.4" height="542.2" fill="none" stroke="#000" stroke-width="1.5"/><rect x="1.6" y="1.6" width="516.8" height="540.6" fill="none" stroke="#000" stroke-opacity="0.15" stroke-width="0.8"/>
<line x1="519.3" y1="0" x2="519.3" y2="544" stroke="#000" stroke-width="1.4"/>
<line x1="0" y1="543.2" x2="520" y2="543.2" stroke="#000" stroke-width="1.8"/>
</svg>
</body></html>
